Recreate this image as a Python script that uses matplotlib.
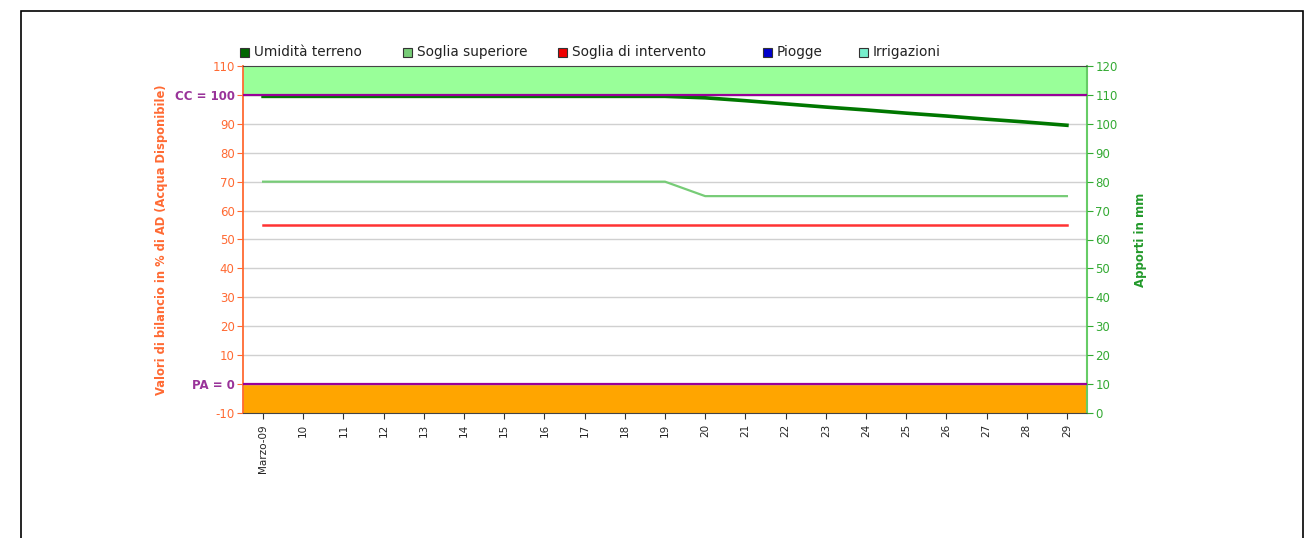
import matplotlib
matplotlib.use("Agg")
import matplotlib.pyplot as plt
from matplotlib.patches import Rectangle

giorni = ["Marzo-09", "10", "11", "12", "13", "14", "15", "16", "17", "18", "19",
          "20", "21", "22", "23", "24", "25", "26", "27", "28", "29"]
umidita = [99.5, 99.5, 99.5, 99.5, 99.5, 99.5, 99.5, 99.5, 99.5, 99.5, 99.5,
           99.0, 98.0, 96.9, 95.8, 94.8, 93.7, 92.7, 91.6, 90.6, 89.5]
soglia_sup = [70] * 11 + [65] * 10
soglia_int = [55] * 21
yticks_sx = [-10, 0, 10, 20, 30, 40, 50, 60, 70, 80, 90, 100, 110]
ylabels_sx = ["-10", "PA = 0", "10", "20", "30", "40", "50", "60", "70", "80", "90", "CC = 100", "110"]
yticks_dx = list(range(0, 130, 10))
legenda_nomi = ["Umidità terreno", "Soglia superiore", "Soglia di intervento", "Piogge", "Irrigazioni"]
legenda_colori = ["#006600", "#77cc77", "#ee0000", "#0000cc", "#77eecc"]

arancio = "#ff6a33"
viola = "#993399"
verde_asse = "#33aa33"

W, H = 1314, 538
fig = plt.figure(figsize=(W / 100, H / 100), dpi=100)
fig.patches.append(Rectangle((0.016, -0.01), 0.976, 0.99, transform=fig.transFigure,
                             fill=False, edgecolor="black", linewidth=1.2))
ax = fig.add_axes([243 / W, 1 - 413 / H, 844 / W, 347 / H])

x = list(range(len(giorni)))
ax.set_xlim(-0.5, len(giorni) - 0.5)
ax.set_ylim(-10, 110)

ax.axhspan(100, 110, color="#99ff99", zorder=0)
ax.axhspan(-10, 0, color="#ffa500", zorder=0)
for v in yticks_sx[1:-1]:
    ax.axhline(v, color="#d0d0d0", linewidth=1, zorder=1)
ax.axhline(100, color="#990099", linewidth=1.6, zorder=4)
ax.axhline(0, color="#990099", linewidth=1.6, zorder=4)

ax.plot(x, soglia_sup, color="#77cc77", linewidth=1.6, zorder=3)
ax.plot(x, soglia_int, color="#ff3333", linewidth=1.8, zorder=3)
ax.plot(x, umidita, color="#007700", linewidth=2.6, zorder=3)

ax.set_yticks(yticks_sx)
ax.set_yticklabels(ylabels_sx)
for lab, v in zip(ax.get_yticklabels(), yticks_sx):
    if v in (0, 100):
        lab.set_color(viola)
        lab.set_fontweight("bold")
    else:
        lab.set_color(arancio)
ax.tick_params(axis="y", labelsize=8.5, length=4, color=arancio, pad=2)
ax.set_xticks(x)
ax.set_xticklabels(giorni, rotation=90, fontsize=7.5, color="#222222")
ax.tick_params(axis="x", length=4, color="#333333", pad=4)
ax.spines["left"].set_color(arancio)
ax.spines["left"].set_linewidth(1.3)
ax.spines["right"].set_color("#66cc66")
ax.spines["right"].set_linewidth(1.5)
ax.spines["bottom"].set_color("#444444")
ax.spines["top"].set_color("#444444")
ax.set_ylabel("Valori di bilancio in % di AD (Acqua Disponibile)", color=arancio,
              fontsize=8.3, fontweight="bold", labelpad=5)

ax2 = ax.twinx()
ax2.set_ylim(0, 120)
ax2.set_yticks(yticks_dx)
ax2.tick_params(axis="y", labelsize=8.5, length=4, color=verde_asse, labelcolor=verde_asse, pad=2)
for s in ax2.spines.values():
    s.set_visible(False)
ax2.set_ylabel("Apporti in mm", color="#22992a", fontsize=8.5, fontweight="bold", labelpad=12)

# legenda disegnata a mano per avvicinare la spaziatura dell'originale
pos_x = [240, 403, 558, 763, 859]
for px, nome, col in zip(pos_x, legenda_nomi, legenda_colori):
    fig.patches.append(Rectangle((px / W, 1 - 57 / H), 9 / W, 9 / H, transform=fig.transFigure,
                                 facecolor=col, edgecolor="#333333", linewidth=0.8))
    fig.text((px + 14) / W, 1 - 52 / H, nome, fontsize=9.8, va="center", ha="left",
             color="#222222")

fig.savefig("out.png", dpi=100)
